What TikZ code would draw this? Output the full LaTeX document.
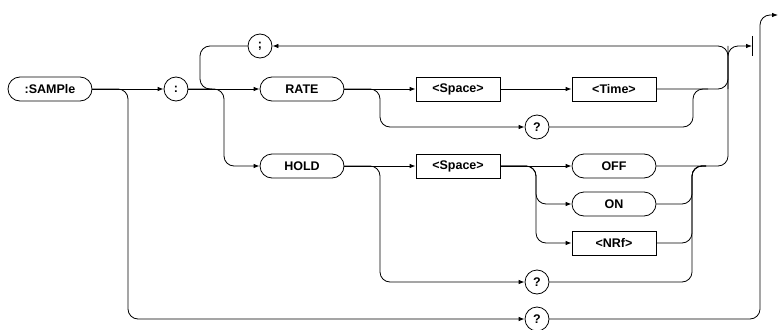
\documentclass[tikz,border=0pt]{standalone}
\usepackage{fontspec}
\setmainfont{Liberation Sans}
\usetikzlibrary{arrows.meta}
\begin{document}
\begin{tikzpicture}[x=1pt,y=-1pt,
  line width=0.8pt,
  every node/.style={font=\fontsize{12.5}{14}\selectfont\bfseries, inner sep=0pt, draw},
  pill/.style={rectangle, rounded corners=12pt, minimum width=84pt, minimum height=24pt},
  boxx/.style={rectangle, minimum width=84pt, minimum height=24pt},
  circ/.style={circle, minimum size=24pt},
  arr/.style={-{Latex[length=6pt,width=4.5pt]}},
  rc/.style={rounded corners=10pt}]
\useasboundingbox (0,0) rectangle (778,329);
% nodes
\node[pill] (sample) at (50,89) {:SAMPle};
\node[circ] (colon) at (176,89) {:};
\node[circ] (semi) at (260,46) {;};
\node[pill] (rate) at (302,89) {RATE};
\node[boxx] (sp1) at (458,89) {<Space>};
\node[boxx] (time) at (614,89) {<Time>};
\node[circ] (q1) at (537,127) {?};
\node[pill] (hold) at (302,166) {HOLD};
\node[boxx] (sp2) at (458,166) {<Space>};
\node[pill] (off) at (614,166) {OFF};
\node[pill] (on) at (614,204) {ON};
\node[boxx] (nrf) at (614,243) {<NRf>};
\node[circ] (q2) at (537,282) {?};
\node[circ] (q3) at (537,319) {?};
% junction coordinates
\coordinate (top) at (728,46);
\coordinate (endbar) at (752,46);
\coordinate (barT) at (752,36);
\coordinate (barB) at (752,56);
\coordinate (exit) at (778,15);
\coordinate (loopL) at (200,89);
\coordinate (loopR) at (212,89);
\coordinate (holdV) at (224,166);
\coordinate (bottomV) at (128,319);
\coordinate (rateV) at (380,127);
\coordinate (rqV) at (693,89);
\coordinate (rqR) at (708,89);
\coordinate (holdQV) at (380,282);
\coordinate (onV) at (536,204);
\coordinate (nrfV) at (536,243);
\coordinate (mergeV) at (692,166);
\coordinate (mergeR) at (706,166);
\coordinate (loopV) at (728,89);
\coordinate (exitV) at (760,15);
% main line
\draw[arr] (sample.east) -- (colon.west);
\draw[arr,rc] (sample.east) -| (bottomV) -- (q3.west);
\draw[arr,rc] (q3.east) -| (exitV) -- (exit);
\draw[arr] (colon.east) -- (rate.west);
\draw[arr,rc] (colon.east) -| (holdV) -- (hold.west);
% loop
\draw[arr,rc] (loopV) |- (semi.east);
\draw[rc] (semi.west) -| (loopL) -- (loopR);
% RATE
\draw[arr] (rate.east) -- (sp1.west);
\draw[arr] (sp1.east) -- (time.west);
\draw[arr,rc] (rate.east) -| (rateV) -- (q1.west);
\draw[rc] (q1.east) -| (rqV) -- (rqR);
\draw[arr,rc] (time.east) -| (top) -- (endbar);
\draw (barT) -- (barB);
% HOLD
\draw[arr] (hold.east) -- (sp2.west);
\draw[arr,rc] (hold.east) -| (holdQV) -- (q2.west);
\draw[arr] (sp2.east) -- (off.west);
\draw[arr,rc] (sp2.east) -| (onV) -- (on.west);
\draw[arr,rc] (sp2.east) -| (nrfV) -- (nrf.west);
\draw[rc] (off.east) -| (top);
\draw[rc] (on.east) -| (mergeV) -- (mergeR);
\draw[rc] (nrf.east) -| (mergeV) -- (mergeR);
\draw[rc] (q2.east) -| (mergeV) -- (mergeR);
\end{tikzpicture}
\end{document}
